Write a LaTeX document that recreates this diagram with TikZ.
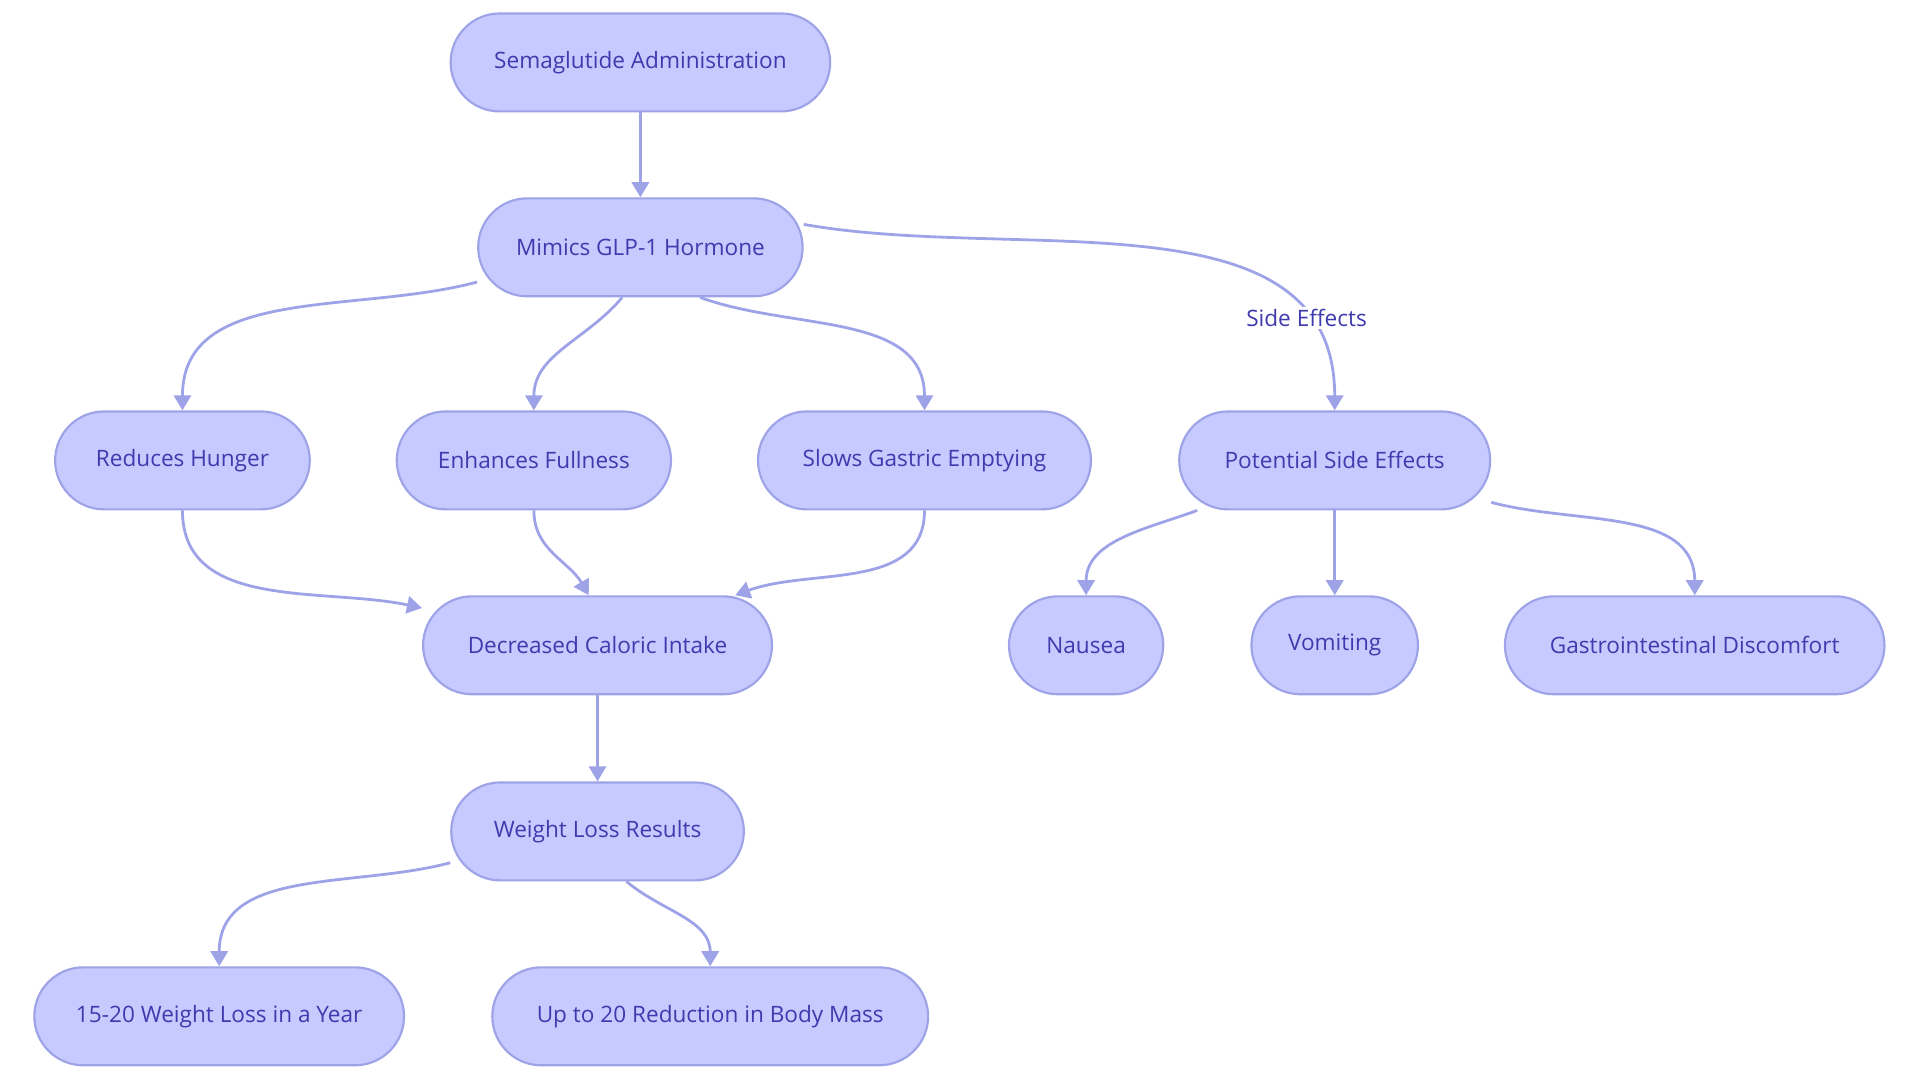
\documentclass[tikz,border=0pt]{standalone}
\usepackage{fontspec}
\setmainfont{Open Sans}
\usetikzlibrary{arrows.meta, positioning}
\definecolor{boxfill}{HTML}{C7CAFE}
\definecolor{boxline}{HTML}{9EA3E8}
\definecolor{boxtext}{HTML}{3F3AAE}
\tikzset{
  stepbox/.style={draw=boxline, fill=boxfill, line width=1pt, rounded corners=0.8cm,
    minimum height=1.6cm, text=boxtext, font=\fontsize{10.5}{12}\selectfont},
  link/.style={draw=boxline, line width=1.3pt, -{Triangle[length=7pt,width=8pt]}}
}
\begin{document}
\begin{tikzpicture}[x=0.02cm, y=-0.02cm]
    \useasboundingbox (0,0) rectangle (1568,884);
    % Nodes
    \node[stepbox, minimum width=6.2cm] (sema) at (523,51) {Semaglutide Administration};
    \node[stepbox, minimum width=5.3cm] (glp) at (523,202) {Mimics GLP-1 Hormone};
    \node[stepbox, minimum width=4.16cm] (hunger) at (149,376) {Reduces Hunger};
    \node[stepbox, minimum width=4.48cm] (full) at (436,376) {Enhances Fullness};
    \node[stepbox, minimum width=5.44cm] (gastric) at (755,376) {Slows Gastric Emptying};
    \node[stepbox, minimum width=5.08cm] (side) at (1090,376) {Potential Side Effects};
    \node[stepbox, minimum width=5.7cm] (intake) at (488,527) {Decreased Caloric Intake};
    \node[stepbox, minimum width=2.52cm] (nausea) at (887,527) {Nausea};
    \node[stepbox, minimum width=2.72cm] (vomit) at (1090,527) {Vomiting};
    \node[stepbox, minimum width=6.2cm] (gi) at (1384,527) {Gastrointestinal Discomfort};
    \node[stepbox, minimum width=4.78cm] (loss) at (488,679) {Weight Loss Results};
    \node[stepbox, minimum width=6.04cm] (year) at (179,830) {15-20 Weight Loss in a Year};
    \node[stepbox, minimum width=7.12cm] (mass) at (580,830) {Up to 20 Reduction in Body Mass};
    % Connectors
    \draw[link] (sema) -- (glp);
    \draw[link] (glp.192) to[out=195,in=90] (hunger.north);
    \draw[link] (glp.250) to[out=230,in=90] (full.north);
    \draw[link] (glp.320) to[out=-20,in=90] (gastric.north);
    \draw[link] (glp.8) to[out=-10,in=90] node[pos=0.82, fill=white, inner sep=1pt, text=boxtext, font=\fontsize{10.5}{12}\selectfont] {Side Effects} (side.north);
    \draw[link] (hunger.south) to[out=-90,in=168] (intake.168);
    \draw[link] (full.south) to[out=-90,in=120] (intake.100);
    \draw[link] (gastric.south) to[out=-90,in=20] (intake.20);
    \draw[link] (side.200) to[out=200,in=90] (nausea.north);
    \draw[link] (side) -- (vomit);
    \draw[link] (side.345) to[out=-15,in=90] (gi.north);
    \draw[link] (intake) -- (loss);
    \draw[link] (loss.192) to[out=195,in=90] (year.north);
    \draw[link] (loss.300) to[out=-40,in=90] (mass.north);
\end{tikzpicture}
\end{document}
